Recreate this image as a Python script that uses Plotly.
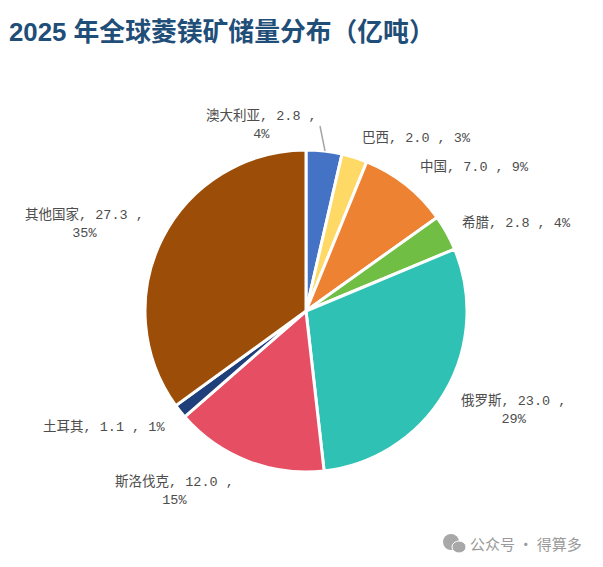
import plotly.graph_objects as go

W = 603
H = 567

countries = ["澳大利亚", "巴西", "中国", "希腊", "俄罗斯", "斯洛伐克", "土耳其", "其他国家"]
reserves = [2.8, 2.0, 7.0, 2.8, 23.0, 12.0, 1.1, 27.3]
shares = ["4%", "3%", "9%", "4%", "29%", "15%", "1%", "35%"]
colors = ["#4472C4", "#FFD966", "#ED8233", "#70BF44", "#2FC1B4", "#E64E63", "#1F3F7A", "#9C4E08"]

# label centres in pixels
label_x = [261, 416, 474, 516, 513, 174, 104, 84]
label_y = [125, 138, 167, 223, 410, 491, 427, 223]
# which labels break onto a second line
two_lines = [True, False, False, False, True, True, False, True]

label_font = dict(family="Liberation Mono, Noto Sans CJK SC, sans-serif", size=13.5, color="#4d4d4d")

fig = go.Figure(go.Pie(
    labels=countries,
    values=reserves,
    sort=False,
    direction="clockwise",
    rotation=0,
    textinfo="none",
    hoverinfo="label+value+percent",
    marker=dict(colors=colors, line=dict(color="white", width=3)),
    domain=dict(x=[145 / W, 467 / W], y=[1 - 472 / H, 1 - 150 / H]),
    showlegend=False,
))

for i in range(len(countries)):
    sep = " ,<br>" if two_lines[i] else " , "
    text = countries[i] + ", " + f"{reserves[i]:.1f}" + sep + shares[i]
    fig.add_annotation(
        x=label_x[i] / W, y=1 - label_y[i] / H,
        xref="paper", yref="paper",
        xanchor="center", yanchor="middle",
        text=text, showarrow=False, align="center",
        font=label_font,
    )

# leader line for the Australia label
fig.add_shape(type="line", xref="paper", yref="paper",
              x0=320 / W, y0=1 - 126 / H, x1=325 / W, y1=1 - 151 / H,
              line=dict(color="#A6A6A6", width=1.5))

# watermark
fig.add_annotation(x=584 / W, y=1 - 543 / H, xref="paper", yref="paper",
                   xanchor="right", yanchor="middle", text="公众号 · 得算多", showarrow=False,
                   font=dict(family="Noto Sans CJK SC", size=15, color="#9A9A9A"))
fig.add_shape(type="circle", xref="paper", yref="paper", fillcolor="#A8A8A8", line_width=0,
              x0=443 / W, x1=459 / W, y0=1 - 550 / H, y1=1 - 534 / H)
fig.add_shape(type="circle", xref="paper", yref="paper", fillcolor="#A8A8A8", line=dict(color="white", width=1),
              x0=452 / W, x1=466 / W, y0=1 - 553 / H, y1=1 - 541 / H)

fig.update_layout(
    width=W,
    height=H,
    margin=dict(l=0, r=0, t=0, b=0),
    paper_bgcolor="white",
    title=dict(
        text="<b>2025 年全球菱镁矿储量分布（亿吨）</b>",
        x=9 / W, xanchor="left",
        y=1 - 32 / H, yanchor="middle",
        font=dict(family="Liberation Sans, Noto Sans CJK SC, sans-serif", size=25.8, color="#1F4E79"),
    ),
)

fig.write_html("out.html", post_script="document.body.style.margin='0';", config=dict(displayModeBar=False))
